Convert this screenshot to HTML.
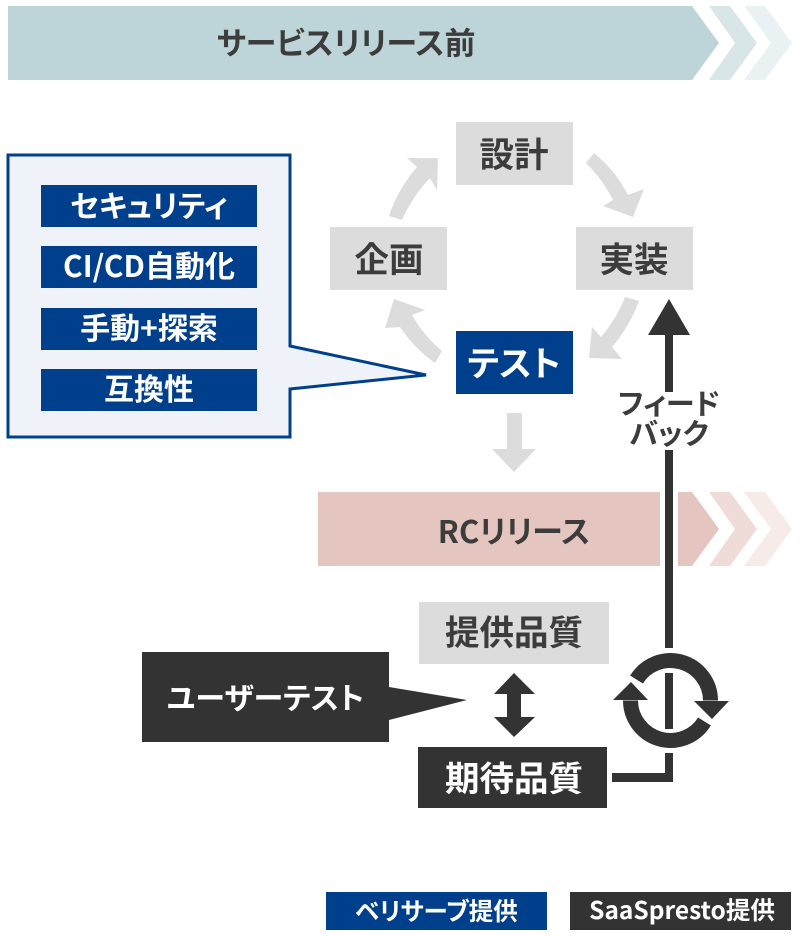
<!DOCTYPE html>
<html lang="ja">
<head>
<meta charset="utf-8">
<title>サービスリリース前</title>
<style>
html,body{margin:0;padding:0;background:#fff;width:800px;height:936px;overflow:hidden}
svg{display:block}
text{font-family:"Noto Sans CJK JP","Liberation Sans",sans-serif;font-weight:700;text-anchor:middle;font-feature-settings:"palt" 1}
</style>
</head>
<body>
<svg width="800" height="936" viewBox="0 0 800 936" xmlns="http://www.w3.org/2000/svg">
<rect width="800" height="936" fill="#fff"/>

<!-- top bar -->
<polygon points="8,6 692,6 719,43 692,80 8,80" fill="#bdd5d8"/>
<polygon points="709,6 730,6 757,43 730,80 709,80 735,43" fill="#d8e6e8"/>
<polygon points="744,6 765,6 792,43 765,80 744,80 771,43" fill="#e9f1f3"/>
<text x="346" y="54.5" font-size="31" fill="#3c3c3c">サービスリリース前</text>

<!-- callout panel -->
<polygon points="8,155 290,155 290,346 426,375 290,389 290,437 8,437" fill="#eff3f9" stroke="#003f8b" stroke-width="3"/>
<rect x="41" y="185" width="216" height="42" fill="#003f8b"/>
<rect x="41" y="246" width="216" height="42" fill="#003f8b"/>
<rect x="41" y="308" width="216" height="42" fill="#003f8b"/>
<rect x="41" y="369" width="216" height="42" fill="#003f8b"/>
<text x="149" y="217" font-size="30" fill="#fff">セキュリティ</text>
<text x="149" y="277" font-size="30" fill="#fff">CI/CD自動化</text>
<text x="149" y="339" font-size="30" fill="#fff">手動+探索</text>
<text x="149" y="400" font-size="30" fill="#fff">互換性</text>

<!-- cycle boxes -->
<rect x="456" y="122" width="117" height="63" fill="#dcdcdc"/>
<rect x="330" y="227" width="117" height="63" fill="#dcdcdc"/>
<rect x="576" y="227" width="117" height="63" fill="#dcdcdc"/>
<rect x="456" y="331" width="117" height="63" fill="#003f8b"/>
<text x="514" y="167" font-size="34.5" fill="#3c3c3c">設計</text>
<text x="389" y="272" font-size="34.5" fill="#3c3c3c">企画</text>
<text x="634" y="272" font-size="34.5" fill="#3c3c3c">実装</text>
<text x="514" y="376" font-size="34.5" fill="#fff">テスト</text>

<!-- cycle arrows -->
<path d="M586,163 L594,153 Q615,170 628,195 L644,189 L633,217 L603,206 L613,200 Q603,180 586,163 Z" fill="#dcdcdc"/>
<path d="M625,297 L639,301 Q630,326 612,347 L622,359 L589,358 L592,327 L601,337 Q617,318 625,297 Z" fill="#dcdcdc"/>
<path d="M442,351 L435,363 Q414,348 400,327 L385,328 L394,299 L425,310 L412,315 Q424,336 442,351 Z" fill="#dcdcdc"/>
<path d="M389,216 L402,220 Q412,197 430,178 L437,190 L438,158 L407,158 L417,167 Q398,189 389,216 Z" fill="#dcdcdc"/>
<polygon points="507,413 522,413 522,449 536,449 514,472 492,449 507,449" fill="#dcdcdc"/>

<!-- RC bar -->
<rect x="318" y="492" width="342" height="74" fill="#e4c5bf"/>
<polygon points="678,492 692,492 719,529 692,566 678,566" fill="#e4c5bf"/>
<polygon points="709,492 730,492 757,529 730,566 709,566 735,529" fill="#efdcd8"/>
<polygon points="744,492 765,492 792,529 765,566 744,566 771,529" fill="#f6ebe8"/>
<text x="514" y="543" font-size="31" fill="#3c3c3c">RCリリース</text>

<!-- feedback arrow -->
<polygon points="669,299 690,335 673,335 673,392 665,392 665,335 648,335" fill="#333"/>
<rect x="665" y="450" width="8" height="198" fill="#333"/>
<text x="669" y="414" font-size="29" fill="#3c3c3c">フィード</text>
<text x="669" y="444" font-size="29" fill="#3c3c3c">バック</text>

<!-- cycle icon -->
<path d="M636.5,679.5 A40,40 0 0 1 710.5,700.5" fill="none" stroke="#333" stroke-width="15"/>
<polygon points="694,701 729,701 712,719" fill="#333"/>
<path d="M704.5,721.5 A40,40 0 0 1 630.5,700.5" fill="none" stroke="#333" stroke-width="15"/>
<polygon points="613,700 648,700 631,682" fill="#333"/>
<rect x="665" y="673" width="8" height="56" fill="#333"/>
<polygon points="665,753 673,753 673,782 612,782 612,773 665,773" fill="#333"/>

<!-- quality -->
<rect x="419" y="602" width="190" height="62" fill="#dcdcdc"/>
<text x="514" y="645" font-size="34.5" fill="#3c3c3c">提供品質</text>
<rect x="418" y="747" width="189" height="61" fill="#333"/>
<text x="514" y="791" font-size="34.5" fill="#fff">期待品質</text>
<polygon points="514,673 535,694 521,694 521,717 535,717 514,737 494,717 507,717 507,694 494,694" fill="#333"/>

<!-- user test -->
<polygon points="142,652 389,652 389,687 467,700 389,720 389,742 142,742" fill="#333"/>
<text x="265.5" y="709" font-size="30" fill="#fff">ユーザーテスト</text>

<!-- legend -->
<rect x="326" y="892" width="221" height="38" fill="#003f8b"/>
<text x="436.5" y="920" font-size="24.5" fill="#fff">ベリサーブ提供</text>
<rect x="570" y="892" width="221" height="38" fill="#333"/>
<text x="682" y="919" font-size="24.5" fill="#fff">SaaSpresto提供</text>
</svg>
</body>
</html>
